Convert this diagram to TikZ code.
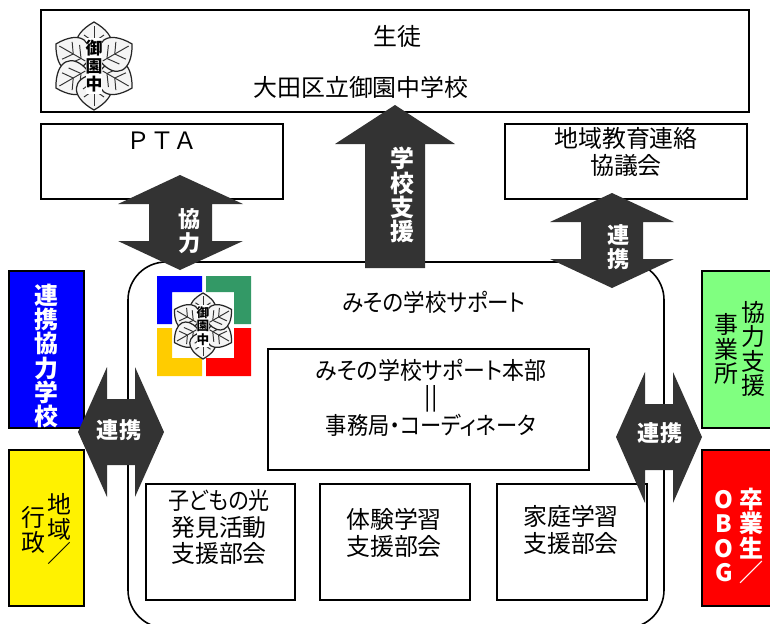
\documentclass[tikz,border=0pt]{standalone}
\usepackage{fontspec}
\setmainfont[RawFeature={+palt}]{Noto Sans CJK JP}
\newfontfamily\fullwidth{Noto Sans CJK JP}
\usepackage{tikz}
\definecolor{arrowgray}{HTML}{333333}
\definecolor{markgreen}{HTML}{339966}
\definecolor{markyellow}{HTML}{FFCC00}
\definecolor{sidegreen}{HTML}{80FF80}
\newcommand{\narrowed}[2]{\scalebox{#1}[1]{#2}}
\tikzset{
  box/.style={draw=black,line width=0.75pt,fill=white},
  sidebox/.style={draw=black,line width=0.9pt},
  lbl/.style={inner sep=0pt,align=center,font=\fontsize{13.6}{15}\selectfont},
  stack/.style={inner sep=0pt,align=center,font=\fontsize{13.6}{13.8}\selectfont},
  wstack/.style={inner sep=0pt,align=center,text=white,font=\fontsize{13.6}{13.8}\selectfont\bfseries},
  arrowlbl/.style={inner sep=0pt,align=center,text=white,font=\fontsize{12.6}{13.8}\selectfont\bfseries},
  blockarrow/.style={fill=arrowgray},
  petal/.style={draw=black!85,line width=0.7pt,fill=black!4},
  vein/.style={draw=black!80,line width=0.55pt},
  schoolmark/.pic={
    \foreach \a in {0,60,...,300} {
      \begin{scope}[rotate=\a]
        \path[petal] (0,-8) .. controls (-22,-12) and (-25,-30) .. (0,-44)
          .. controls (25,-30) and (22,-12) .. (0,-8) -- cycle;
        \draw[vein] (0,-10) -- (0,-40);
        \draw[vein] (0,-15) -- (-11,-23) (0,-15) -- (11,-23);
        \draw[vein] (0,-24) -- (-10,-31) (0,-24) -- (10,-31);
      \end{scope}
    }
    \fill[white] (-8,-28) rectangle (8,28);
    \node[inner sep=0pt,align=center,transform shape,font=\fontsize{9.6}{10.4}\selectfont\bfseries] (-markname) at (0,0) {御\\園\\中};
  },
}
\begin{document}
\begin{tikzpicture}[x=0.02cm,y=-0.02cm]
  \useasboundingbox (0,0) rectangle (770,623);
  \clip (0,0) rectangle (770,623);

  \draw[box] (41,10) rectangle (749,112);
  \pic (topmark) at (94,66) {schoolmark};
  \node[lbl] (students) at (397,36) {生徒};
  \node[lbl] (school) at (361,87) {大田区立御園中学校};

  \draw[box] (41,124) rectangle (283,199);
  \node[lbl,font=\fontsize{13.6}{15}\selectfont\fullwidth] (pta) at (162,141) {ＰＴＡ};

  \draw[box] (505,124) rectangle (747,199);
  \node[lbl] (council) at (626,152) {地域教育連絡\\協議会};

  \draw[line width=0.9pt,rounded corners=0.76cm] (128,262) rectangle (664,628);
  \node[lbl] (support) at (434,302) {\narrowed{0.9}{みその学校サポート}};

  \fill[blue] (157,276) -- (202,276) -- (202,292) -- (172,292) -- (172,324) -- (157,324) -- cycle;
  \fill[markgreen] (206,276) -- (251,276) -- (251,324) -- (234,324) -- (234,292) -- (206,292) -- cycle;
  \fill[markyellow] (157,328) -- (172,328) -- (172,358) -- (202,358) -- (202,376) -- (157,376) -- cycle;
  \fill[red] (234,328) -- (251,328) -- (251,376) -- (206,376) -- (206,358) -- (234,358) -- cycle;
  \pic[scale=0.75] (lowmark) at (203,326) {schoolmark};

  \draw[box] (268,349) rectangle (589,470);
  \node[lbl] (office) at (431,398) {\narrowed{0.916}{みその学校サポート本部}\\||\\\narrowed{0.89}{事務局・コーディネータ}};

  \draw[box] (146,484) rectangle (295,600);
  \node[lbl] (children) at (219,527) {\narrowed{0.88}{子どもの光}\\発見活動\\支援部会};
  \draw[box] (320,484) rectangle (470,600);
  \node[lbl] (experience) at (394,533) {体験学習\\支援部会};
  \draw[box] (497,484) rectangle (647,600);
  \node[lbl] (home) at (571,530) {家庭学習\\支援部会};

  \draw[sidebox,fill=blue] (9,271) rectangle (84,428);
  \node[wstack] (partner) at (46,356) {連\\携\\協\\力\\学\\校};
  \draw[sidebox,fill=yellow] (9,450) rectangle (84,606);
  \node[stack] (area) at (59,529) {地\\域\\／};
  \node[stack] (admin) at (33,530) {行\\政};

  \draw[sidebox,fill=sidegreen] (702,271) rectangle (780,428);
  \node[stack] (aid) at (753,349) {協\\力\\支\\援};
  \node[stack] (firms) at (726,349) {事\\業\\所};
  \draw[sidebox,fill=red] (702,450) rectangle (780,606);
  \node[wstack] (grads) at (751,536) {卒\\業\\生\\／};
  \node[wstack] (obog) at (724,536) {O\\B\\O\\G};

  \fill[blockarrow] (180,175) -- (243,204) -- (212,204) -- (212,241) -- (243,241) -- (180,270)
    -- (118,241) -- (149,241) -- (149,204) -- (118,204) -- cycle;
  \node[arrowlbl] (cooperate) at (190,231) {協\\力};

  \fill[blockarrow] (395,105) -- (455,144) -- (425,144) -- (425,268) -- (365,268) -- (365,144) -- (335,144) -- cycle;
  \node[wstack] (backing) at (402,195) {学\\校\\支\\援};

  \fill[blockarrow] (612,193) -- (674,222) -- (643,222) -- (643,259) -- (674,259) -- (612,288)
    -- (550,259) -- (581,259) -- (581,222) -- (550,222) -- cycle;
  \node[arrowlbl] (linktop) at (619,247) {連\\携};

  \fill[blockarrow] (78,432) -- (107,367) -- (107,399) -- (135,399) -- (135,367) -- (164,432)
    -- (135,497) -- (135,465) -- (107,465) -- (107,497) -- cycle;
  \node[arrowlbl] (linkleft) at (119,430) {連携};

  \fill[blockarrow] (616,437) -- (645,372) -- (645,404) -- (673,404) -- (673,372) -- (702,437)
    -- (673,503) -- (673,470) -- (645,470) -- (645,503) -- cycle;
  \node[arrowlbl] (linkright) at (660,433) {連携};
\end{tikzpicture}
\end{document}
